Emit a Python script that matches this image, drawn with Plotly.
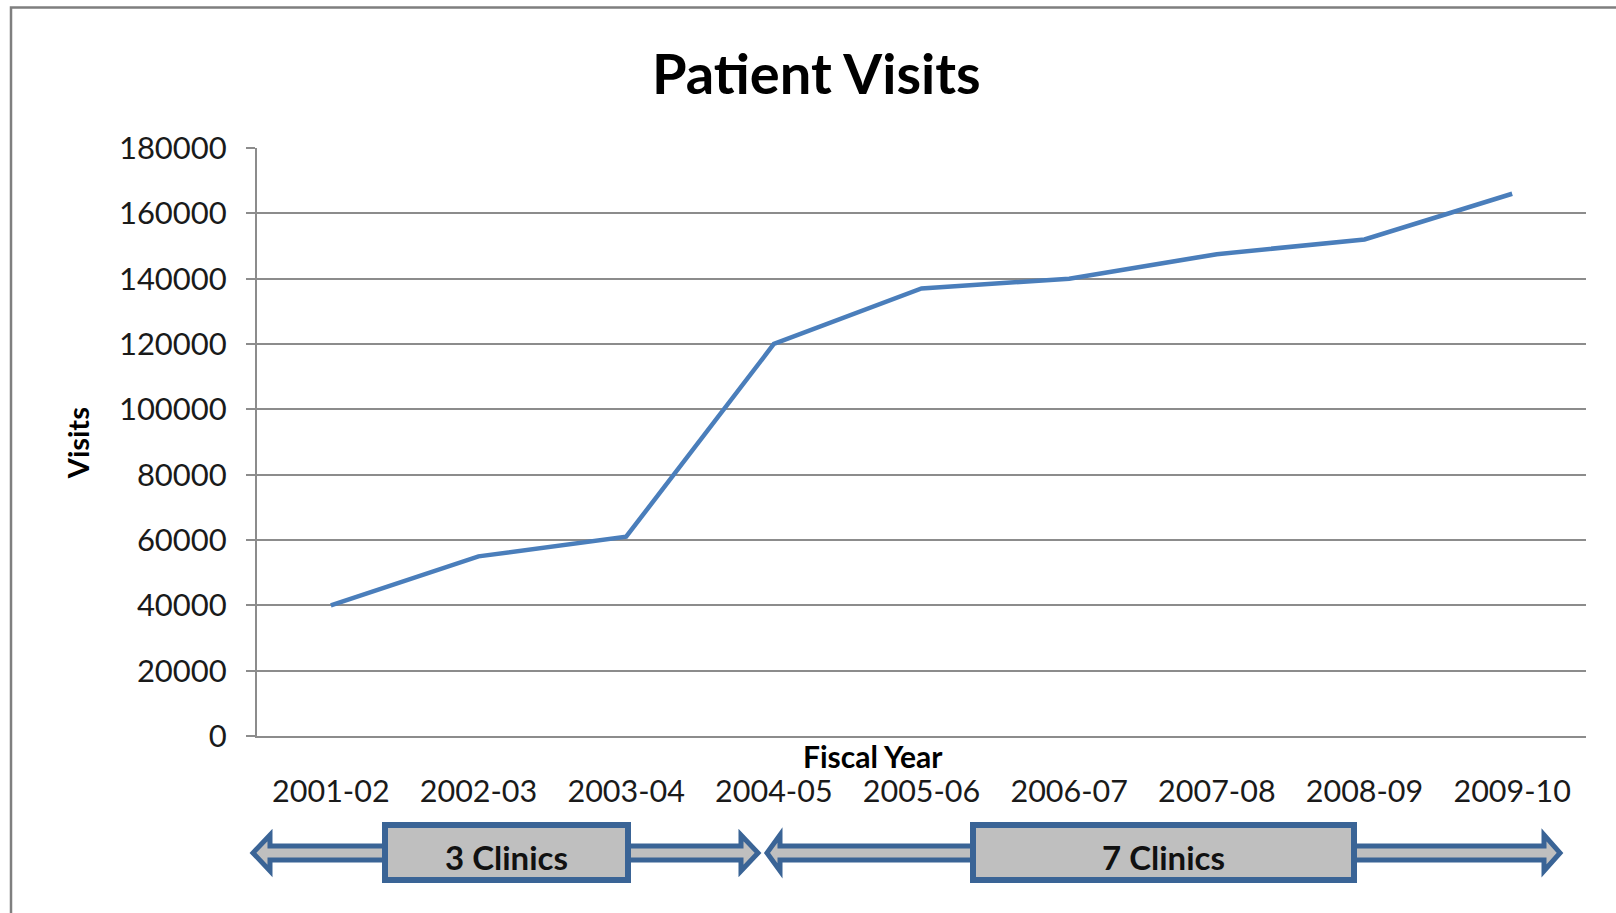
import plotly.graph_objects as go

# ---- data ----
years = ["2001-02", "2002-03", "2003-04", "2004-05", "2005-06",
         "2006-07", "2007-08", "2008-09", "2009-10"]
visits = [40000, 55000, 61000, 120000, 137000, 140000, 147500, 152000, 166000]
y_ticks = [0, 20000, 40000, 60000, 80000, 100000, 120000, 140000, 160000, 180000]
periods = ["3 Clinics", "7 Clinics"]

# ---- layout geometry (pixels) ----
W, H = 1616, 913
L, R, T, B = 257, 1586, 147.5, 736
PW, PH = R - L, B - T


def px(x):
    return (x - L) / PW


def py(y):
    return (B - y) / PH


FONT = "Lato"
BLUE = "#4A7EBB"
DARK_BLUE = "#3A6496"
GREY_FILL = "#BFBFBF"
GRID = "#8C8C8C"

fig = go.Figure()
fig.add_trace(go.Scatter(
    x=years, y=visits, mode="lines",
    line=dict(color=BLUE, width=4.5),
    showlegend=False, hoverinfo="x+y",
))

shapes = []
annotations = []

# outer frame
shapes.append(dict(type="rect", xref="paper", yref="paper",
                   x0=px(11), x1=px(1630), y0=py(7), y1=py(930),
                   line=dict(color="#7F7F7F", width=2.5), fillcolor="rgba(0,0,0,0)",
                   layer="below"))


def double_arrow(tl, bl, br, tr, c, hh, hs):
    pts = [(tl, c), (bl, c - hh), (bl, c - hs), (br, c - hs), (br, c - hh),
           (tr, c), (br, c + hh), (br, c + hs), (bl, c + hs), (bl, c + hh)]
    d = "M " + " L ".join(f"{px(x):.5f},{py(y):.5f}" for x, y in pts) + " Z"
    return dict(type="path", xref="paper", yref="paper", path=d,
                fillcolor=GREY_FILL, line=dict(color=DARK_BLUE, width=5))


C = 853
arrows = [(253, 270, 741, 758), (767, 780, 1544, 1560)]
boxes = [(385, 628), (973, 1354)]
for (tl, bl, br, tr), (bx0, bx1), label in zip(arrows, boxes, periods):
    shapes.append(double_arrow(tl, bl, br, tr, C, 18, 7))
    shapes.append(dict(type="rect", xref="paper", yref="paper",
                       x0=px(bx0), x1=px(bx1), y0=py(825), y1=py(880),
                       fillcolor=GREY_FILL, line=dict(color=DARK_BLUE, width=6)))
    annotations.append(dict(text=f"<b>{label}</b>", xref="paper", yref="paper",
                            x=px((bx0 + bx1) / 2), y=py(857), showarrow=False,
                            xanchor="center", yanchor="middle",
                            font=dict(family=FONT, size=33, color="#111111")))

annotations.append(dict(text="<b>Patient Visits</b>", xref="paper", yref="paper",
                        x=px(816), y=py(72), showarrow=False,
                        xanchor="center", yanchor="middle",
                        font=dict(family=FONT, size=56, color="#000000")))
annotations.append(dict(text="<b>Fiscal Year</b>", xref="paper", yref="paper",
                        x=px(873), y=py(756), showarrow=False,
                        xanchor="center", yanchor="middle",
                        font=dict(family=FONT, size=30, color="#000000")))
annotations.append(dict(text="<b>Visits</b>", xref="paper", yref="paper",
                        x=px(77), y=py(443), showarrow=False, textangle=-90,
                        xanchor="center", yanchor="middle",
                        font=dict(family=FONT, size=29, color="#000000")))

fig.update_layout(
    width=W, height=H,
    margin=dict(l=L, r=W - R, t=T, b=H - B, pad=0),
    paper_bgcolor="white", plot_bgcolor="white",
    font=dict(family=FONT, size=30, color="#1A1A1A"),
    shapes=shapes, annotations=annotations,
    showlegend=False,
    xaxis=dict(type="category", range=[-0.5, 8.5], showgrid=False,
               showline=True, linecolor=GRID, linewidth=2,
               ticks="", ticklabelstandoff=27,
               tickfont=dict(family=FONT, size=30.5, color="#1A1A1A"),
               zeroline=False, fixedrange=True),
    yaxis=dict(range=[0, 180000], tickvals=y_ticks,
               ticktext=[str(v) for v in y_ticks],
               showgrid=True, gridcolor=GRID, gridwidth=1.5,
               showline=True, linecolor=GRID, linewidth=2,
               ticks="outside", ticklen=9, tickcolor=GRID, tickwidth=2,
               ticklabelstandoff=13,
               tickfont=dict(family=FONT, size=31, color="#1A1A1A"),
               zeroline=False, fixedrange=True),
)

fig.write_html("out.html", config={"displayModeBar": False},
               post_script="document.body.style.margin='0';document.body.style.overflow='hidden';")
